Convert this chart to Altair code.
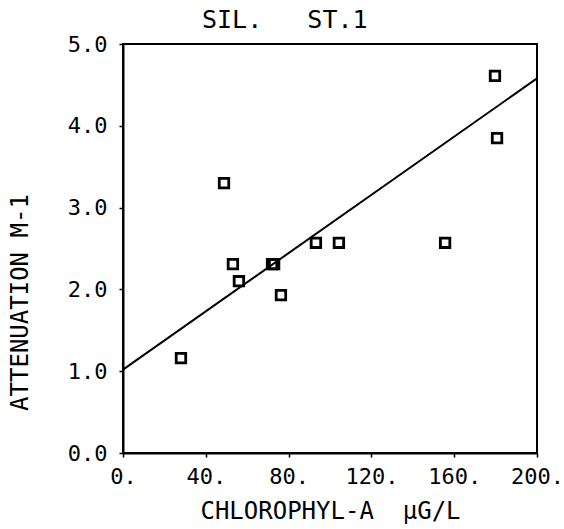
import altair as alt
import pandas as pd

# Data
chl = [28.0, 48.8, 53.1, 56.0, 72.0, 73.0, 76.3, 93.2, 104.3, 155.6, 179.7, 180.7]
att = [1.16, 3.30, 2.31, 2.10, 2.31, 2.31, 1.93, 2.57, 2.57, 2.57, 4.61, 3.85]
fit_x = [0, 200]
fit_y = [1.02, 4.58]
x_ticks = [0, 40, 80, 120, 160, 200]
y_ticks = [0.0, 1.0, 2.0, 3.0, 4.0, 5.0]

pts = pd.DataFrame({"chl": chl, "att": att})
fit = pd.DataFrame({"chl": fit_x, "att": fit_y})

FONT = "DejaVu Sans Mono"

xscale = alt.Scale(domain=[0, 200], nice=False, zero=False)
yscale = alt.Scale(domain=[0, 5], nice=False, zero=False)

xaxis = alt.Axis(
    values=x_ticks, labelExpr="datum.value + '.'",
    title="CHLOROPHYL-A\u00a0\u00a0µG/L", titleFont=FONT, titleFontSize=24, titleFontWeight="normal",
    titleAlign="center", titleBaseline="alphabetic", titleX=207, titleY=65,
    labelFont=FONT, labelFontSize=22, labelPadding=9, labelColor="black",
    tickSize=4, tickColor="black", tickWidth=1.5,
    domainColor="black", domainWidth=2, grid=False, labelFlush=False,
    titleColor="black",
)
yaxis = alt.Axis(
    values=y_ticks, format=".1f",
    title="ATTENUATION M-1", titleFont=FONT, titleFontSize=24, titleFontWeight="normal",
    titleAlign="center", titleBaseline="alphabetic", titleAngle=270, titleX=-96, titleY=258,
    labelFont=FONT, labelFontSize=22, labelPadding=12, labelColor="black",
    tickSize=4, tickColor="black", tickWidth=1.5,
    domainColor="black", domainWidth=2, grid=False, labelFlush=False,
    titleColor="black",
)

points = alt.Chart(pts).mark_point(
    shape="square", filled=False, size=90, strokeWidth=2.8, color="black", opacity=1
).encode(
    x=alt.X("chl:Q", scale=xscale, axis=xaxis),
    y=alt.Y("att:Q", scale=yscale, axis=yaxis),
)

line = alt.Chart(fit).mark_line(color="black", strokeWidth=2).encode(
    x=alt.X("chl:Q", scale=xscale),
    y=alt.Y("att:Q", scale=yscale),
)

chart = alt.layer(line, points).properties(
    width=414, height=409,
    title=alt.Title(
        "SIL.\u00a0\u00a0\u00a0ST.1", font=FONT, fontSize=25, fontWeight="normal", color="black",
        anchor="start", frame="group", dx=79, offset=-20, baseline="alphabetic",
    ),
    autosize=alt.AutoSizeParams(type="none"),
    padding={"left": 123, "top": 44, "right": 27, "bottom": 76},
    background="white",
).configure_view(stroke="black", strokeWidth=2)

chart.save("out.html", embed_options={"renderer": "svg", "actions": False})
